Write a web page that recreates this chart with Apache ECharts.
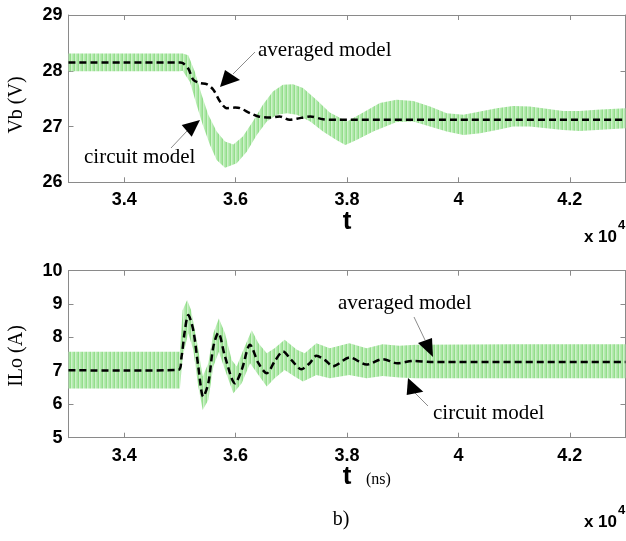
<!DOCTYPE html>
<html>
<head>
<meta charset="utf-8">
<script src="https://cdn.jsdelivr.net/npm/echarts@6/dist/echarts.min.js"></script>
<style>html,body{margin:0;padding:0;background:#fff}#c{width:626px;height:541px}</style>
</head>
<body>
<div id="c"></div>
<script>
// ---- tick labels ----
const xTicks = [3.4, 3.6, 3.8, 4.0, 4.2];
const yTicksTop = [26, 27, 28, 29];
const yTicksBot = [5, 6, 7, 8, 9, 10];

// ---- top panel: Vb (V) ----
const avgTopX = [3.30, 3.40, 3.50, 3.505, 3.515, 3.524, 3.536, 3.548, 3.560, 3.572, 3.584, 3.599, 3.608, 3.626, 3.641, 3.661, 3.679, 3.697, 3.710, 3.734, 3.757, 3.781, 3.80, 4.00, 4.30];
const avgTopY = [28.15, 28.15, 28.15, 28.14, 28.04, 27.84, 27.78, 27.76, 27.66, 27.45, 27.33, 27.34, 27.33, 27.24, 27.18, 27.16, 27.18, 27.12, 27.14, 27.18, 27.13, 27.12, 27.12, 27.12, 27.12];

const upTopX = [3.30, 3.40, 3.50, 3.505, 3.515, 3.527, 3.539, 3.551, 3.566, 3.581, 3.596, 3.613, 3.631, 3.649, 3.667, 3.685, 3.703, 3.721, 3.745, 3.769, 3.80, 3.829, 3.859, 3.889, 3.919, 3.949, 3.979, 4.009, 4.039, 4.069, 4.098, 4.128, 4.158, 4.188, 4.218, 4.248, 4.30];
const upTopY = [28.31, 28.31, 28.31, 28.31, 28.28, 27.98, 27.57, 27.21, 26.91, 26.73, 26.68, 26.82, 27.09, 27.39, 27.63, 27.75, 27.76, 27.69, 27.48, 27.25, 27.09, 27.25, 27.42, 27.48, 27.46, 27.36, 27.24, 27.21, 27.27, 27.33, 27.37, 27.36, 27.32, 27.28, 27.28, 27.30, 27.33];

const loTopX = [3.30, 3.40, 3.50, 3.505, 3.518, 3.530, 3.541, 3.554, 3.566, 3.581, 3.602, 3.620, 3.638, 3.656, 3.674, 3.692, 3.710, 3.734, 3.757, 3.781, 3.797, 3.817, 3.847, 3.889, 3.919, 3.949, 3.979, 4.009, 4.039, 4.069, 4.098, 4.128, 4.158, 4.188, 4.218, 4.248, 4.30];
const loTopY = [27.99, 27.99, 27.99, 28.00, 27.80, 27.39, 27.03, 26.67, 26.40, 26.26, 26.34, 26.55, 26.85, 27.09, 27.21, 27.24, 27.21, 27.09, 26.91, 26.76, 26.67, 26.76, 26.91, 27.08, 27.09, 27.00, 26.91, 26.85, 26.88, 26.94, 27.00, 27.00, 26.97, 26.94, 26.92, 26.94, 26.97];

// ---- bottom panel: ILo (A) ----
const avgBotX = [3.30, 3.40, 3.497, 3.503, 3.509, 3.515, 3.524, 3.533, 3.542, 3.551, 3.560, 3.569, 3.581, 3.599, 3.611, 3.626, 3.641, 3.656, 3.670, 3.685, 3.700, 3.718, 3.733, 3.745, 3.760, 3.775, 3.805, 3.835, 3.864, 3.890, 3.920, 3.950, 4.30];
const avgBotY = [7.02, 7.01, 7.03, 7.43, 8.22, 8.67, 8.22, 7.13, 6.23, 6.63, 7.72, 8.14, 7.43, 6.63, 7.03, 7.78, 7.23, 6.93, 7.28, 7.58, 7.33, 7.05, 7.23, 7.45, 7.33, 7.14, 7.40, 7.19, 7.35, 7.23, 7.30, 7.27, 7.27];

const upBotX = [3.30, 3.40, 3.500, 3.505, 3.513, 3.520, 3.530, 3.541, 3.551, 3.560, 3.570, 3.581, 3.593, 3.602, 3.614, 3.629, 3.641, 3.656, 3.670, 3.688, 3.710, 3.724, 3.745, 3.769, 3.804, 3.835, 3.864, 3.894, 3.924, 4.10, 4.30];
const upBotY = [7.57, 7.57, 7.57, 8.82, 9.12, 8.82, 7.93, 6.83, 7.23, 8.13, 8.57, 8.13, 7.33, 7.13, 7.63, 8.22, 7.83, 7.53, 7.68, 7.93, 7.63, 7.53, 7.83, 7.68, 7.83, 7.68, 7.80, 7.75, 7.78, 7.80, 7.80];

const loBotX = [3.30, 3.40, 3.500, 3.505, 3.515, 3.524, 3.533, 3.541, 3.551, 3.560, 3.570, 3.581, 3.596, 3.611, 3.626, 3.641, 3.656, 3.670, 3.688, 3.706, 3.721, 3.745, 3.769, 3.804, 3.835, 3.864, 3.894, 3.924, 4.10, 4.30];
const loBotY = [6.47, 6.47, 6.47, 7.43, 8.13, 7.63, 6.53, 5.83, 6.13, 7.13, 7.57, 7.03, 6.33, 6.63, 7.23, 6.88, 6.53, 6.78, 7.03, 6.83, 6.68, 6.88, 6.78, 6.88, 6.78, 6.85, 6.80, 6.78, 6.78, 6.78];

// ---- styles ----
const SANS = '"Liberation Sans", Arial, sans-serif';
const SERIF = '"Liberation Serif", "Times New Roman", serif';
const FRAME = '#8a8a8a';

// vertical-stripe fill for the switching band
const pc = document.createElement('canvas');
pc.width = 4; pc.height = 8;
(function () {
  const g = pc.getContext('2d');
  const cols = ['#b7ebb2', '#a8e5a2', '#93de8b', '#cff1cb'];
  for (let i = 0; i < 4; i++) { g.fillStyle = cols[i]; g.fillRect(i, 0, 1, 8); }
})();
const bandFill = { image: pc, repeat: 'repeat' };

function zip(xs, ys) { return xs.map((x, i) => [x, ys[i]]); }

function band(ai, upX, upY, loX, loY) {
  return {
    type: 'custom', xAxisIndex: ai * 2, yAxisIndex: ai * 2, z: 2, silent: true, clip: true,
    data: [[upX[0], upY[0]]],
    renderItem: function (params, api) {
      const pts = [];
      for (let i = 0; i < upX.length; i++) pts.push(api.coord([upX[i], upY[i]]));
      for (let i = loX.length - 1; i >= 0; i--) pts.push(api.coord([loX[i], loY[i]]));
      return { type: 'polygon', shape: { points: pts }, style: { fill: bandFill, stroke: null } };
    }
  };
}
function dashed(ai, xs, ys) {
  return {
    type: 'line', xAxisIndex: ai * 2, yAxisIndex: ai * 2, z: 5, silent: true,
    showSymbol: false, smooth: 0.3, data: zip(xs, ys),
    lineStyle: { color: '#000', width: 2.5, type: [7, 4] }
  };
}

function xAxes(gi) {
  const base = {
    type: 'value', gridIndex: gi, min: 3.3, max: 4.3,
    axisLine: { show: true, onZero: false, lineStyle: { color: FRAME, width: 1 } },
    axisTick: { show: true, inside: true, length: 5, customValues: xTicks, lineStyle: { color: FRAME } },
    splitLine: { show: false }
  };
  return [
    Object.assign({}, base, { position: 'bottom',
      axisLabel: { show: true, customValues: xTicks, margin: 9, color: '#000', fontSize: 18, fontWeight: 'bold', fontFamily: SANS,
        formatter: v => String(+(+v).toFixed(1)) } }),
    Object.assign({}, base, { position: 'top', axisLabel: { show: false } })
  ];
}
function yAxes(gi, ticks) {
  const base = {
    type: 'value', gridIndex: gi, min: ticks[0], max: ticks[ticks.length - 1], interval: 1,
    axisLine: { show: true, onZero: false, lineStyle: { color: FRAME, width: 1 } },
    axisTick: { show: true, inside: true, length: 5, lineStyle: { color: FRAME } },
    splitLine: { show: false }
  };
  return [
    Object.assign({}, base, { position: 'left',
      axisLabel: { show: true, margin: 6, color: '#000', fontSize: 18, fontWeight: 'bold', fontFamily: SANS } }),
    Object.assign({}, base, { position: 'right', axisLabel: { show: false } })
  ];
}

function txt(x, y, s, font, opt) {
  return Object.assign({ type: 'text', x: x, y: y, z: 100,
    style: Object.assign({ text: s, font: font, fill: '#000', textAlign: 'left', textVerticalAlign: 'middle' }, opt || {}) });
}
function arrow(tip, c1, c2, from, to) {
  return [
    { type: 'line', z: 90, shape: { x1: from[0], y1: from[1], x2: to[0], y2: to[1] }, style: { stroke: '#8c8c8c', lineWidth: 1 } },
    { type: 'polygon', z: 91, shape: { points: [tip, c1, c2] }, style: { fill: '#000' } }
  ];
}

const chart = echarts.init(document.getElementById('c'), null, { renderer: 'canvas' });
chart.setOption({
  animation: false,
  backgroundColor: '#fff',
  grid: [
    { left: 68.5, top: 15, width: 557, height: 167.3 },
    { left: 68.5, top: 270.7, width: 557, height: 167 }
  ],
  xAxis: xAxes(0).concat(xAxes(1)),
  yAxis: yAxes(0, yTicksTop).concat(yAxes(1, yTicksBot)),
  series: [
    band(0, upTopX, upTopY, loTopX, loTopY),
    dashed(0, avgTopX, avgTopY),
    band(1, upBotX, upBotY, loBotX, loBotY),
    dashed(1, avgBotX, avgBotY)
  ],
  graphic: [
    txt(17, 105, 'Vb (V)', '20px ' + SERIF, { textAlign: 'center' }),
    txt(17, 356, 'ILo (A)', '20px ' + SERIF, { textAlign: 'center' }),
    txt(347, 222, 't', 'bold 26px ' + SANS, { textAlign: 'center' }),
    txt(347, 477, 't', 'bold 26px ' + SANS, { textAlign: 'center' }),
    txt(366, 480, '(ns)', '16px ' + SERIF),
    txt(617, 237, 'x 10', 'bold 17px ' + SANS, { textAlign: 'right' }),
    txt(618, 225, '4', 'bold 13px ' + SANS),
    txt(617, 522, 'x 10', 'bold 17px ' + SANS, { textAlign: 'right' }),
    txt(618, 510, '4', 'bold 13px ' + SANS),
    txt(258, 50, 'averaged model', '21px ' + SERIF),
    txt(84, 157, 'circuit model', '21px ' + SERIF),
    txt(338, 303, 'averaged model', '21px ' + SERIF),
    txt(433, 413, 'circuit model', '21px ' + SERIF),
    txt(341, 520, 'b)', '20px ' + SERIF, { textAlign: 'center' })
  ].map((g, i) => (i < 2 ? Object.assign(g, { rotation: Math.PI / 2 }) : g))
   .concat(arrow([220, 87], [225, 70], [240, 80], [233, 74], [255, 52]))
   .concat(arrow([200, 120], [181.7, 125], [191.7, 136.7], [187, 131], [171, 148]))
   .concat(arrow([433, 357], [418, 343], [432, 338], [425, 340], [414, 317]))
   .concat(arrow([408, 378], [406.7, 395], [423.3, 391.7], [415, 393], [428, 406]))
});
</script>
</body>
</html>
